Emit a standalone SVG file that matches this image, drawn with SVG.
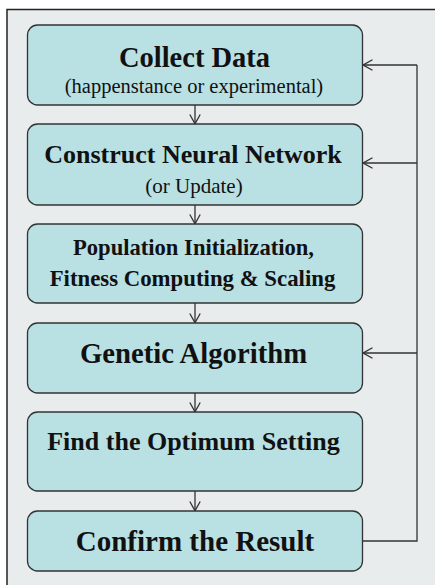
<svg xmlns="http://www.w3.org/2000/svg" width="435" height="585" viewBox="0 0 435 585">
  <defs>
    <style>
      .frame { fill: #e8eced; stroke: #222; stroke-width: 1.5; }
      .box { fill: #b9e0e3; stroke: #333; stroke-width: 1.3; }
      .t { font-family: "Liberation Serif", "Times New Roman", serif; fill: #111; text-anchor: middle; }
      .b { font-weight: bold; }
      .link { fill: none; stroke: #333; stroke-width: 1.3; }
    </style>
    <marker id="head" viewBox="0 0 10 12" refX="10" refY="6" markerWidth="10" markerHeight="12" markerUnits="userSpaceOnUse" orient="auto">
      <path d="M0.5,0.8 L9.8,6 L0.5,11.2" fill="none" stroke="#333" stroke-width="1.3"/>
    </marker>
  </defs>

  <rect width="435" height="585" fill="#ffffff"/>
  <!-- panel, open to the right and bottom -->
  <rect x="7" y="9.5" width="440" height="590" class="frame"/>

  <g id="collect-data">
    <rect x="27.5" y="25" width="335" height="80" rx="10" class="box"/>
    <text x="194.5" y="67" class="t b" font-size="28.5">Collect Data</text>
    <text x="194" y="93" class="t" font-size="20.5">(happenstance or experimental)</text>
  </g>

  <g id="construct-network">
    <rect x="27.5" y="124" width="335" height="81" rx="10" class="box"/>
    <text x="193" y="163" class="t b" font-size="26">Construct Neural Network</text>
    <text x="194" y="193" class="t" font-size="21">(or Update)</text>
  </g>

  <g id="population-init">
    <rect x="27.5" y="224" width="335" height="79" rx="10" class="box"/>
    <text x="193.5" y="255" class="t b" font-size="22.6">Population Initialization,</text>
    <text x="192.5" y="286" class="t b" font-size="22.8">Fitness Computing &amp; Scaling</text>
  </g>

  <g id="genetic-algorithm">
    <rect x="27.5" y="323" width="335" height="70" rx="10" class="box"/>
    <text x="193.5" y="363" class="t b" font-size="28.7">Genetic Algorithm</text>
  </g>

  <g id="find-optimum">
    <rect x="27.5" y="412" width="335" height="79" rx="10" class="box"/>
    <text x="193.5" y="450" class="t b" font-size="26">Find the Optimum Setting</text>
  </g>

  <g id="confirm-result">
    <rect x="27.5" y="511" width="335" height="60" rx="10" class="box"/>
    <text x="195" y="551" class="t b" font-size="29">Confirm the Result</text>
  </g>

  <g id="connectors">
    <line x1="195" y1="105" x2="195" y2="124" class="link" marker-end="url(#head)"/>
    <line x1="195" y1="205" x2="195" y2="224" class="link" marker-end="url(#head)"/>
    <line x1="195" y1="303" x2="195" y2="323" class="link" marker-end="url(#head)"/>
    <line x1="195" y1="393" x2="195" y2="412" class="link" marker-end="url(#head)"/>
    <line x1="195" y1="491" x2="195" y2="511" class="link" marker-end="url(#head)"/>
    <!-- feedback loop -->
    <polyline points="362.5,541 417,541 417,65" class="link"/>
    <line x1="417" y1="65" x2="363" y2="65" class="link" marker-end="url(#head)"/>
    <line x1="417" y1="163" x2="363" y2="163" class="link" marker-end="url(#head)"/>
    <line x1="417" y1="353" x2="363" y2="353" class="link" marker-end="url(#head)"/>
  </g>
</svg>
